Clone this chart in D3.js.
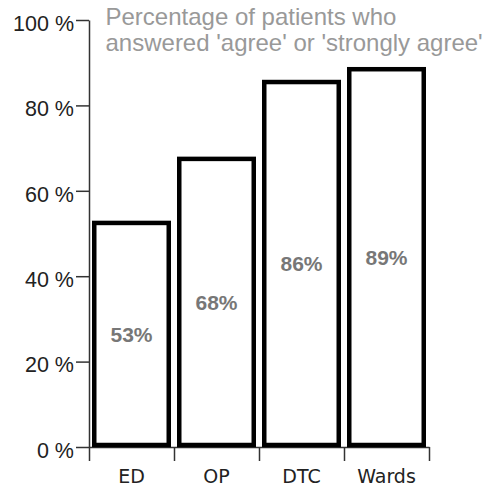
<!DOCTYPE html>
<html>
<head>
<meta charset="utf-8">
<script src="https://cdn.jsdelivr.net/npm/d3@7"></script>
<style>
  html, body { margin: 0; padding: 0; background: #fff; }
  svg { display: block; }
  text { font-family: "Liberation Sans", Arial, sans-serif; }
</style>
</head>
<body>
<svg id="chart" width="484" height="486"></svg>
<script>
// Survey results by department
const categories = ["ED", "OP", "DTC", "Wards"];
const values = [53, 68, 86, 89];
const yTicks = [0, 20, 40, 60, 80, 100];
const titleLines = ["Percentage of patients who", "answered 'agree' or 'strongly agree'"];

const svg = d3.select("#chart");

const x = d3.scaleBand().domain(categories).range([89, 429]).padding(0);
const y = d3.scaleLinear().domain([0, 100]).range([447, 20]);
const axisColor = "#333";

// y axis
const yAxis = svg.append("g")
  .attr("transform", "translate(89,0)")
  .call(d3.axisLeft(y).tickValues(yTicks).tickSize(13).tickSizeOuter(0)
    .tickFormat(d => d + " %"));
yAxis.select(".domain").attr("stroke", axisColor).attr("stroke-width", 1.5);
yAxis.selectAll(".tick line").attr("stroke", axisColor).attr("stroke-width", 1.5);
yAxis.selectAll(".tick text")
  .attr("x", -15)
  .attr("dy", "0.48em")
  .attr("fill", "#222")
  .style("font-size", "21.5px")
  .style("font-family", "'Liberation Sans', Arial, sans-serif");

// x axis: ticks at the band edges, labels centred in each band
const edges = categories.map(c => x(c)).concat([x.range()[1]]);
const xEdge = d3.scaleLinear().domain([89, 429]).range([89, 429]);
const xAxis = svg.append("g")
  .attr("transform", `translate(0,${y(0)})`)
  .call(d3.axisBottom(xEdge).tickValues(edges).tickSize(14).tickSizeOuter(0).tickFormat(""));
xAxis.select(".domain").attr("stroke", axisColor).attr("stroke-width", 1.5);
xAxis.selectAll(".tick line").attr("stroke", axisColor).attr("stroke-width", 1.5);

svg.append("g").selectAll("text")
  .data(categories)
  .join("text")
  .attr("x", d => x(d) + x.bandwidth() / 2)
  .attr("y", 483)
  .attr("text-anchor", "middle")
  .attr("fill", "#222")
  .style("font-family", "'DejaVu Sans', Verdana, sans-serif")
  .style("font-size", "19px")
  .text(d => d);

// bars
const sw = 4.5;
const inset = 3;
const bars = svg.append("g").selectAll("rect")
  .data(categories.map((c, i) => ({ c, v: values[i] })))
  .join("rect")
  .attr("x", d => x(d.c) + inset + sw / 2)
  .attr("width", x.bandwidth() - 2 * inset - sw)
  .attr("y", d => y(d.v) + sw / 2)
  .attr("height", d => (y(0) - 2) - (y(d.v) + sw / 2))
  .attr("fill", "#fff")
  .attr("stroke", "#000")
  .attr("stroke-width", sw);

// value labels centred inside each bar
svg.append("g").selectAll("text")
  .data(categories.map((c, i) => ({ c, v: values[i] })))
  .join("text")
  .attr("x", d => x(d.c) + x.bandwidth() / 2)
  .attr("y", d => (y(d.v) + y(0)) / 2)
  .attr("dy", "0.38em")
  .attr("text-anchor", "middle")
  .attr("fill", "#777")
  .style("font-size", "21px")
  .style("font-weight", "bold")
  .text(d => d.v + "%");

// title
svg.append("g").selectAll("text")
  .data(titleLines)
  .join("text")
  .attr("x", 105.5)
  .attr("y", (d, i) => 24.5 + i * 26.5)
  .attr("fill", "#999")
  .style("font-size", "24px")
  .text(d => d);
</script>
</body>
</html>
